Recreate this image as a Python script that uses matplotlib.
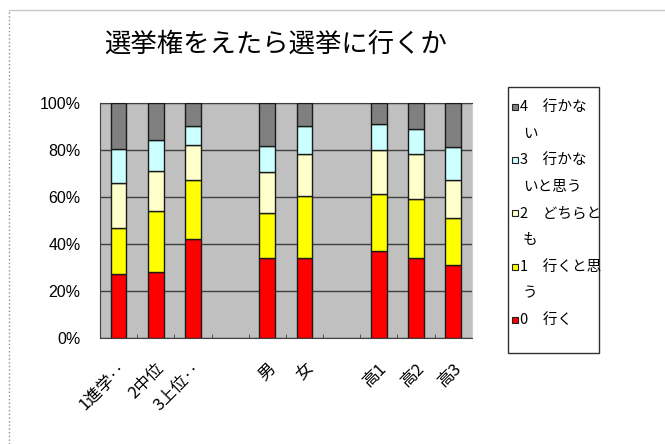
import numpy as np
import matplotlib.pyplot as plt
from matplotlib.patches import Rectangle
from matplotlib.lines import Line2D

plt.rcParams['font.family'] = ['Noto Sans CJK JP', 'DejaVu Sans']

title = '選挙権をえたら選挙に行くか'
categories = ['1進学‥', '2中位', '3上位‥', '', '男', '女', '', '高1', '高2', '高3']

# percent shares per answer, for the non-blank categories (in order)
s0 = [27, 28, 42, 34, 34, 37, 34, 31]          # 0 行く
s1 = [19.5, 26, 25, 19, 26.5, 24, 25, 20]      # 1 行くと思う
s2 = [19.5, 17, 15, 17.5, 17.5, 19, 19, 16]    # 2 どちらとも
s3 = [14.5, 13, 8, 11, 12, 11, 11, 14]         # 3 行かないと思う
s4 = [19.5, 16, 10, 18.5, 10, 9, 11, 19]       # 4 行かない

series = [s0, s1, s2, s3, s4]
series_labels = [['0　行く'], ['1　行くと思', 'う'], ['2　どちらと', 'も'],
                 ['3　行かな', 'いと思う'], ['4　行かな', 'い']]
colors = ['#FF0000', '#FFFF00', '#FFFFCC', '#CCFFFF', '#808080']

fig = plt.figure(figsize=(6.65, 4.44), dpi=100)
W, H = 665, 444
ax = fig.add_axes([100 / W, 1 - 337.7 / H, 371.7 / W, 235 / H])
ax.set_facecolor('#C0C0C0')

pos = np.array([i for i, c in enumerate(categories) if c != ''])
bottom = np.zeros(len(pos))
for vals, col in zip(series, colors):
    ax.bar(pos, vals, width=0.42, bottom=bottom, color=col,
           edgecolor='#1a1a1a', linewidth=1.0, zorder=3)
    bottom += np.array(vals)

ax.set_xlim(-0.5, len(categories) - 0.5)
ax.set_ylim(0, 100)
ax.set_yticks([0, 20, 40, 60, 80, 100])
ax.set_yticklabels(['0%', '20%', '40%', '60%', '80%', '100%'],
                   family=['Liberation Sans'], fontsize=11.5)
ax.tick_params(axis='y', length=0, pad=14)
ax.yaxis.grid(True, color='#404040', linewidth=1.0, zorder=1)

ax.set_xticks(range(len(categories)))
ax.set_xticklabels(categories, rotation=45, ha='right', va='top',
                   rotation_mode='anchor', fontsize=12)
ax.tick_params(axis='x', which='major', length=0, pad=16)
ax.set_xticks(np.arange(0.5, len(categories) - 0.5, 1), minor=True)
ax.tick_params(axis='x', which='minor', direction='in', length=3, color='#404040')

for s in ['left', 'bottom', 'top']:
    ax.spines[s].set_color('#404040')
ax.spines['right'].set_color('#d0d0d0')

fig.text(276 / W, 1 - 44 / H, title, ha='center', va='center', fontsize=19)

# legend box
fig.patches.append(Rectangle((508 / W, 1 - 353 / H), 91 / W, 266 / H,
                             transform=fig.transFigure, fill=False,
                             edgecolor='#303030', linewidth=1.0))
step = 26.7
y = 106.7
for lines, col in zip(series_labels[::-1], colors[::-1]):
    fig.patches.append(Rectangle((511.5 / W, 1 - (y + 3) / H), 6 / W, 6 / H,
                                 transform=fig.transFigure, facecolor=col,
                                 edgecolor='#202020', linewidth=0.8))
    for k, line in enumerate(lines):
        fig.text((520 + 3 * k) / W, 1 - (y + k * step) / H, line, ha='left',
                 va='center', fontsize=10.5)
    y += 2 * step

# chart frame
fig.add_artist(Line2D([9 / W, 9 / W], [0, 1 - 10 / H], transform=fig.transFigure,
                      color='#909090', linewidth=1, linestyle=':'))
fig.add_artist(Line2D([9 / W, 1], [1 - 10 / H, 1 - 10 / H], transform=fig.transFigure,
                      color='#c8c8c8', linewidth=1))

fig.savefig('out.png', dpi=100)
